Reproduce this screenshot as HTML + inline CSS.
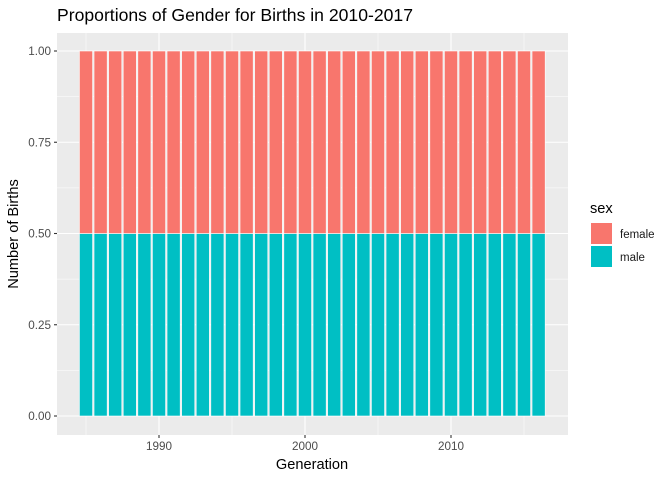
<!DOCTYPE html>
<html><head><meta charset="utf-8"><style>body{margin:0;background:#fff}svg{display:block;font-family:"Liberation Sans",sans-serif}</style></head>
<body>
<svg id="c" width="672" height="480">
<text x="57" y="21" font-size="17.6" fill="#000">Proportions of Gender for Births in 2010-2017</text>
<rect x="57" y="33" width="511" height="402" fill="#EBEBEB"/>
<g id="grid"></g><g id="bars"></g><g id="axes"></g>
<text x="312" y="469" font-size="14.6" text-anchor="middle">Generation</text>
<text transform="translate(18,234) rotate(-90)" font-size="14.6" text-anchor="middle">Number of Births</text>
<text x="590" y="213" font-size="14.6">sex</text>
<rect x="591" y="223" width="21" height="21" fill="#F8766D"/>
<text x="620" y="238" font-size="11.5" fill="#1a1a1a">female</text>
<rect x="591" y="246" width="21" height="21" fill="#00BFC4"/>
<text x="620" y="261" font-size="11.5" fill="#1a1a1a">male</text>
</svg>
<script>
const years=[1985,1986,1987,1988,1989,1990,1991,1992,1993,1994,1995,1996,1997,1998,1999,2000,2001,2002,2003,2004,2005,2006,2007,2008,2009,2010,2011,2012,2013,2014,2015,2016];
const maleProp=[0.5,0.5,0.5,0.5,0.5,0.5,0.5,0.5,0.5,0.5,0.5,0.5,0.5,0.5,0.5,0.5,0.5,0.5,0.5,0.5,0.5,0.5,0.5,0.5,0.5,0.5,0.5,0.5,0.5,0.5,0.5,0.5];
const femaleProp=[0.5,0.5,0.5,0.5,0.5,0.5,0.5,0.5,0.5,0.5,0.5,0.5,0.5,0.5,0.5,0.5,0.5,0.5,0.5,0.5,0.5,0.5,0.5,0.5,0.5,0.5,0.5,0.5,0.5,0.5,0.5,0.5];
const xTicks=[1990,2000,2010];
const yTicks=[0,0.25,0.5,0.75,1];
const yLabels=["0.00","0.25","0.50","0.75","1.00"];
const NS="http://www.w3.org/2000/svg";
const X=v=>159+(v-1990)*14.6;
const Y=v=>416-v*365;
function mk(t,a,p){const e=document.createElementNS(NS,t);for(const k in a)e.setAttribute(k,a[k]);p.appendChild(e);return e;}
const g=document.getElementById('grid'),b=document.getElementById('bars'),ax=document.getElementById('axes');
for(let i=0;i<yTicks.length-1;i++){const m=(yTicks[i]+yTicks[i+1])/2;
 const l=mk('line',{x1:57,x2:568,y1:Y(m),y2:Y(m),stroke:'#fff','stroke-width':0.5},g);
 
 }
for(let i=0;i<xTicks.length+1;i++){const m=(i===0?xTicks[0]-5:xTicks[i-1]+5);
 const l=mk('line',{x1:X(m),x2:X(m),y1:33,y2:435,stroke:'#fff','stroke-width':0.5},g);
 
 }
yTicks.forEach((t,i)=>{
 const l=mk('line',{x1:57,x2:568,y1:Y(t),y2:Y(t),stroke:'#fff','stroke-width':1.1},g);
 
 
 const k=mk('line',{x1:54,x2:57,y1:Y(t),y2:Y(t),stroke:'#333','stroke-width':1.1},ax);
 
 
 const tx=mk('text',{x:51,y:Y(t)+4,'font-size':11.7,'text-anchor':'end',fill:'#4d4d4d'},ax);
 tx.textContent=yLabels[i];
 
 });
xTicks.forEach(t=>{
 const l=mk('line',{x1:X(t),x2:X(t),y1:33,y2:435,stroke:'#fff','stroke-width':1.1},g);
 
 
 const k=mk('line',{x1:X(t),x2:X(t),y1:435,y2:438,stroke:'#333','stroke-width':1.1},ax);
 
 
 const tx=mk('text',{x:X(t),y:450,'font-size':11.7,'text-anchor':'middle',fill:'#4d4d4d'},ax);
 tx.textContent=t;
 
 });
const w=0.9*14.6;
years.forEach((yr,i)=>{
 const m=mk('rect',{x:X(yr)-w/2,y:Y(maleProp[i]),width:w,height:Y(0)-Y(maleProp[i]),fill:'#00BFC4',stroke:'#fff','stroke-width':0.6},b);
 
 
 const top=maleProp[i]+femaleProp[i];
 const f=mk('rect',{x:X(yr)-w/2,y:Y(top),width:w,height:Y(maleProp[i])-Y(top),fill:'#F8766D',stroke:'#fff','stroke-width':0.6},b);
 
 });
</script>
</body></html>
